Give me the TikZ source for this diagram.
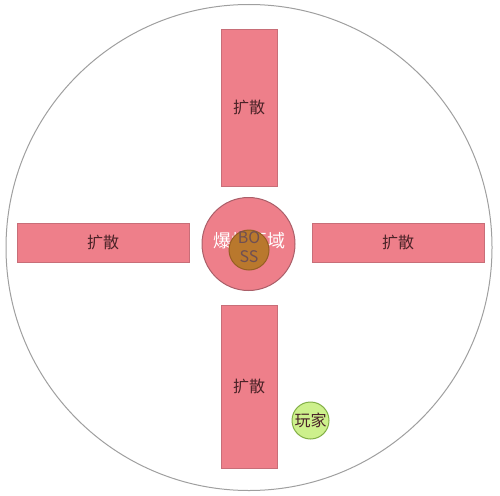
\documentclass[tikz,border=0pt]{standalone}
\usepackage{fontspec}
\newfontfamily\cjk{Noto Sans CJK SC}
\definecolor{pink1}{RGB}{238, 127, 138}
\definecolor{pinkline}{RGB}{200, 110, 120}
\definecolor{blastline}{RGB}{170, 95, 105}
\definecolor{boss1}{RGB}{185, 120, 45}
\definecolor{bossline}{RGB}{150, 95, 35}
\definecolor{player1}{RGB}{205, 240, 140}
\definecolor{playerline}{RGB}{130, 175, 70}
\definecolor{text1}{RGB}{75, 35, 40}
\usetikzlibrary{positioning}

\begin{document}
\begin{tikzpicture}[x=1pt, y=-1pt,
  spread/.style={draw=pinkline, fill=pink1, line width=0.8pt, inner sep=0pt, font=\cjk\fontsize{16}{18}\selectfont, text=text1},
  roundzone/.style={circle, inner sep=0pt, line width=1pt}]
  \useasboundingbox (0,0) rectangle (500,495);
  \node[roundzone, draw=gray!75, minimum size=486pt] (arena) at (249,247.5) {};
  % spreading arms
  \node[spread, minimum width=56pt, minimum height=157pt] (up) at (249,107.5) {扩散};
  \node[spread, minimum width=56pt, minimum height=163pt] (down) at (249,386.5) {扩散};
  \node[spread, minimum width=172pt, minimum height=39pt] (left) at (103,242.5) {扩散};
  \node[spread, minimum width=172pt, minimum height=39pt] (right) at (398,242.5) {扩散};
  % blast zone and boss
  \node[roundzone, draw=blastline, fill=pink1, minimum size=93pt] (blast) at (248.5,244) {};
  \node[text=white, font=\cjk\fontsize{18}{20}\selectfont] (blasttext) at (249,241) {爆炸区域};
  \node[roundzone, draw=bossline, fill=boss1, minimum size=40pt] (boss) at (249,250) {};
  \node[align=center, text=text1!80, font=\cjk\fontsize{16}{19}\selectfont] (bosstext) at (249,247.5) {BO\\SS};
  % player
  \node[roundzone, draw=playerline, fill=player1, minimum size=37pt, font=\cjk\fontsize{16}{18}\selectfont, text=text1] (player) at (310.5,420.5) {玩家};
\end{tikzpicture}
\end{document}
